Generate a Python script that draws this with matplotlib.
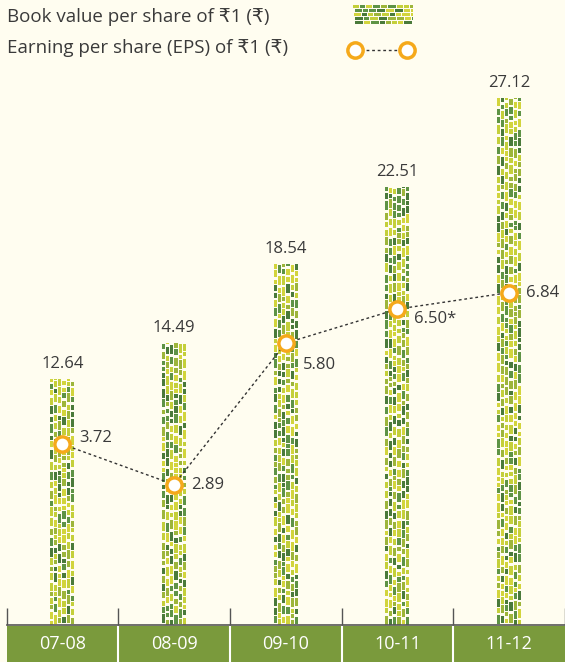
import numpy as np
import matplotlib
matplotlib.use('Agg')
import matplotlib.pyplot as plt
from matplotlib.lines import Line2D

plt.rcParams['font.family'] = ['Open Sans', 'DejaVu Sans']

years = ['07-08', '08-09', '09-10', '10-11', '11-12']
book_value = [12.64, 14.49, 18.54, 22.51, 27.12]
eps = [3.72, 2.89, 5.80, 6.50, 6.84]
eps_notes = ['', '', '', '*', '']

BG = '#fffdf0'
TXT = '#3a3a3a'
BAND = '#7a9a3c'
ORANGE = '#f5a91b'
GREENS = ['#4a7a3a', '#5e9345', '#9db53a', '#d2d43c', '#c4cf3a']

W, H = 565.0, 662.0
PX_BOOK = 19.45   # pixels per unit of book value
PX_EPS = 48.6     # pixels per unit of eps

rng = np.random.default_rng(11)


def to_rgba(hexcol):
    return np.array(matplotlib.colors.to_rgba(hexcol))


def column_texture(rows, ncols=6):
    # vertical bricks in thin columns, like the printed bars
    img = np.zeros((rows, ncols * 4, 4))
    for c in range(ncols):
        r = int(rng.integers(0, 3))
        while r < rows:
            n = int(rng.integers(4, 10))
            col = to_rgba(GREENS[rng.integers(len(GREENS))])
            img[r:min(r + n, rows), c * 4:c * 4 + 3] = col
            r += n + int(rng.integers(1, 4))
    return img


def row_texture(rows=20, cols=60):
    # horizontal bricks for the legend swatch
    img = np.zeros((rows, cols, 4))
    for r0 in range(0, rows, 4):
        c = int(rng.integers(0, 3))
        while c < cols:
            n = int(rng.integers(5, 10))
            img[r0:r0 + 3, c:min(c + n, cols)] = to_rgba(GREENS[rng.integers(len(GREENS))])
            c += n + 1
    return img


fig = plt.figure(figsize=(W / 100, H / 100), dpi=100, facecolor=BG)
left = 6.5 / W
bottom = 37 / H
ax = fig.add_axes([left, bottom, 1 - left, 1 - bottom])
ax.set_facecolor(BG)

x = np.arange(len(years))
bars = ax.bar(x, book_value, width=0.215, color='none', edgecolor='none', zorder=2)
for patch, v in zip(bars, book_value):
    x0, w, h = patch.get_x(), patch.get_width(), patch.get_height()
    img = column_texture(int(round(h * PX_BOOK)))
    im = ax.imshow(img, extent=[x0, x0 + w, 0, h], origin='lower',
                   interpolation='nearest', aspect='auto', zorder=2)
    im.set_clip_path(patch)
    ax.annotate('{:.2f}'.format(v), (x0 + w / 2, h), xytext=(0, 7),
                textcoords='offset pixels', ha='center', va='bottom',
                fontsize=12, color=TXT)

ax.set_xlim(-0.5, 4.5)
ax.set_ylim(0, (H - 37) / PX_BOOK)
for s in ['top', 'left', 'right']:
    ax.spines[s].set_visible(False)
ax.spines['bottom'].set_color('#555555')
ax.spines['bottom'].set_linewidth(1.2)
ax.set_xticks(np.arange(-0.5, 5, 1))
ax.tick_params(axis='x', direction='in', length=12, width=1, color='#555555',
               labelbottom=False)
ax.set_yticks([])

ax2 = ax.twinx()
ax2.set_ylim(0, (H - 37) / PX_EPS)
ax2.axis('off')
ax2.plot(x, eps, linestyle=(0, (2, 2)), color='#333333', lw=1,
         marker='o', ms=11, mfc='white', mec=ORANGE, mew=2.5, zorder=5)
offsets = [(17, 6), (17, 0), (17, -22), (17, -10), (17, 0)]
for xi, v, note, off in zip(x, eps, eps_notes, offsets):
    ax2.annotate('{:.2f}{}'.format(v, note), (xi, v), xytext=off,
                 textcoords='offset pixels', ha='left', va='center',
                 fontsize=12, color=TXT)

# category band
band = fig.add_axes([left, 0, 1 - left, 36 / H])
band.set_facecolor(BAND)
band.set_xlim(-0.5, 4.5)
band.set_ylim(0, 1)
for b in np.arange(0.5, 4.5, 1):
    band.axvline(b, color='white', lw=1.5)
for xi, lab in zip(x, years):
    band.text(xi, 0.5, lab, ha='center', va='center', color='white', fontsize=13)
band.set_xticks([])
band.set_yticks([])
for s in band.spines.values():
    s.set_visible(False)

# legend
fig.text(7 / W, 1 - 17 / H, 'Book value per share of ₹1 (₹)', va='center',
         fontsize=13.5, color=TXT)
fig.text(7 / W, 1 - 48 / H, 'Earning per share (EPS) of ₹1 (₹)', va='center',
         fontsize=13.5, color=TXT)
sw = fig.add_axes([353 / W, 1 - 25 / H, 60 / W, 20 / H])
sw.imshow(row_texture(), aspect='auto', interpolation='nearest')
sw.axis('off')
fig.add_artist(Line2D([355 / W, 407 / W], [1 - 50 / H, 1 - 50 / H],
                      transform=fig.transFigure, linestyle=(0, (2, 2)),
                      color='#333333', lw=1, marker='o', ms=11, mfc='white',
                      mec=ORANGE, mew=2.5))

fig.savefig('out.png', dpi=100, facecolor=BG)
